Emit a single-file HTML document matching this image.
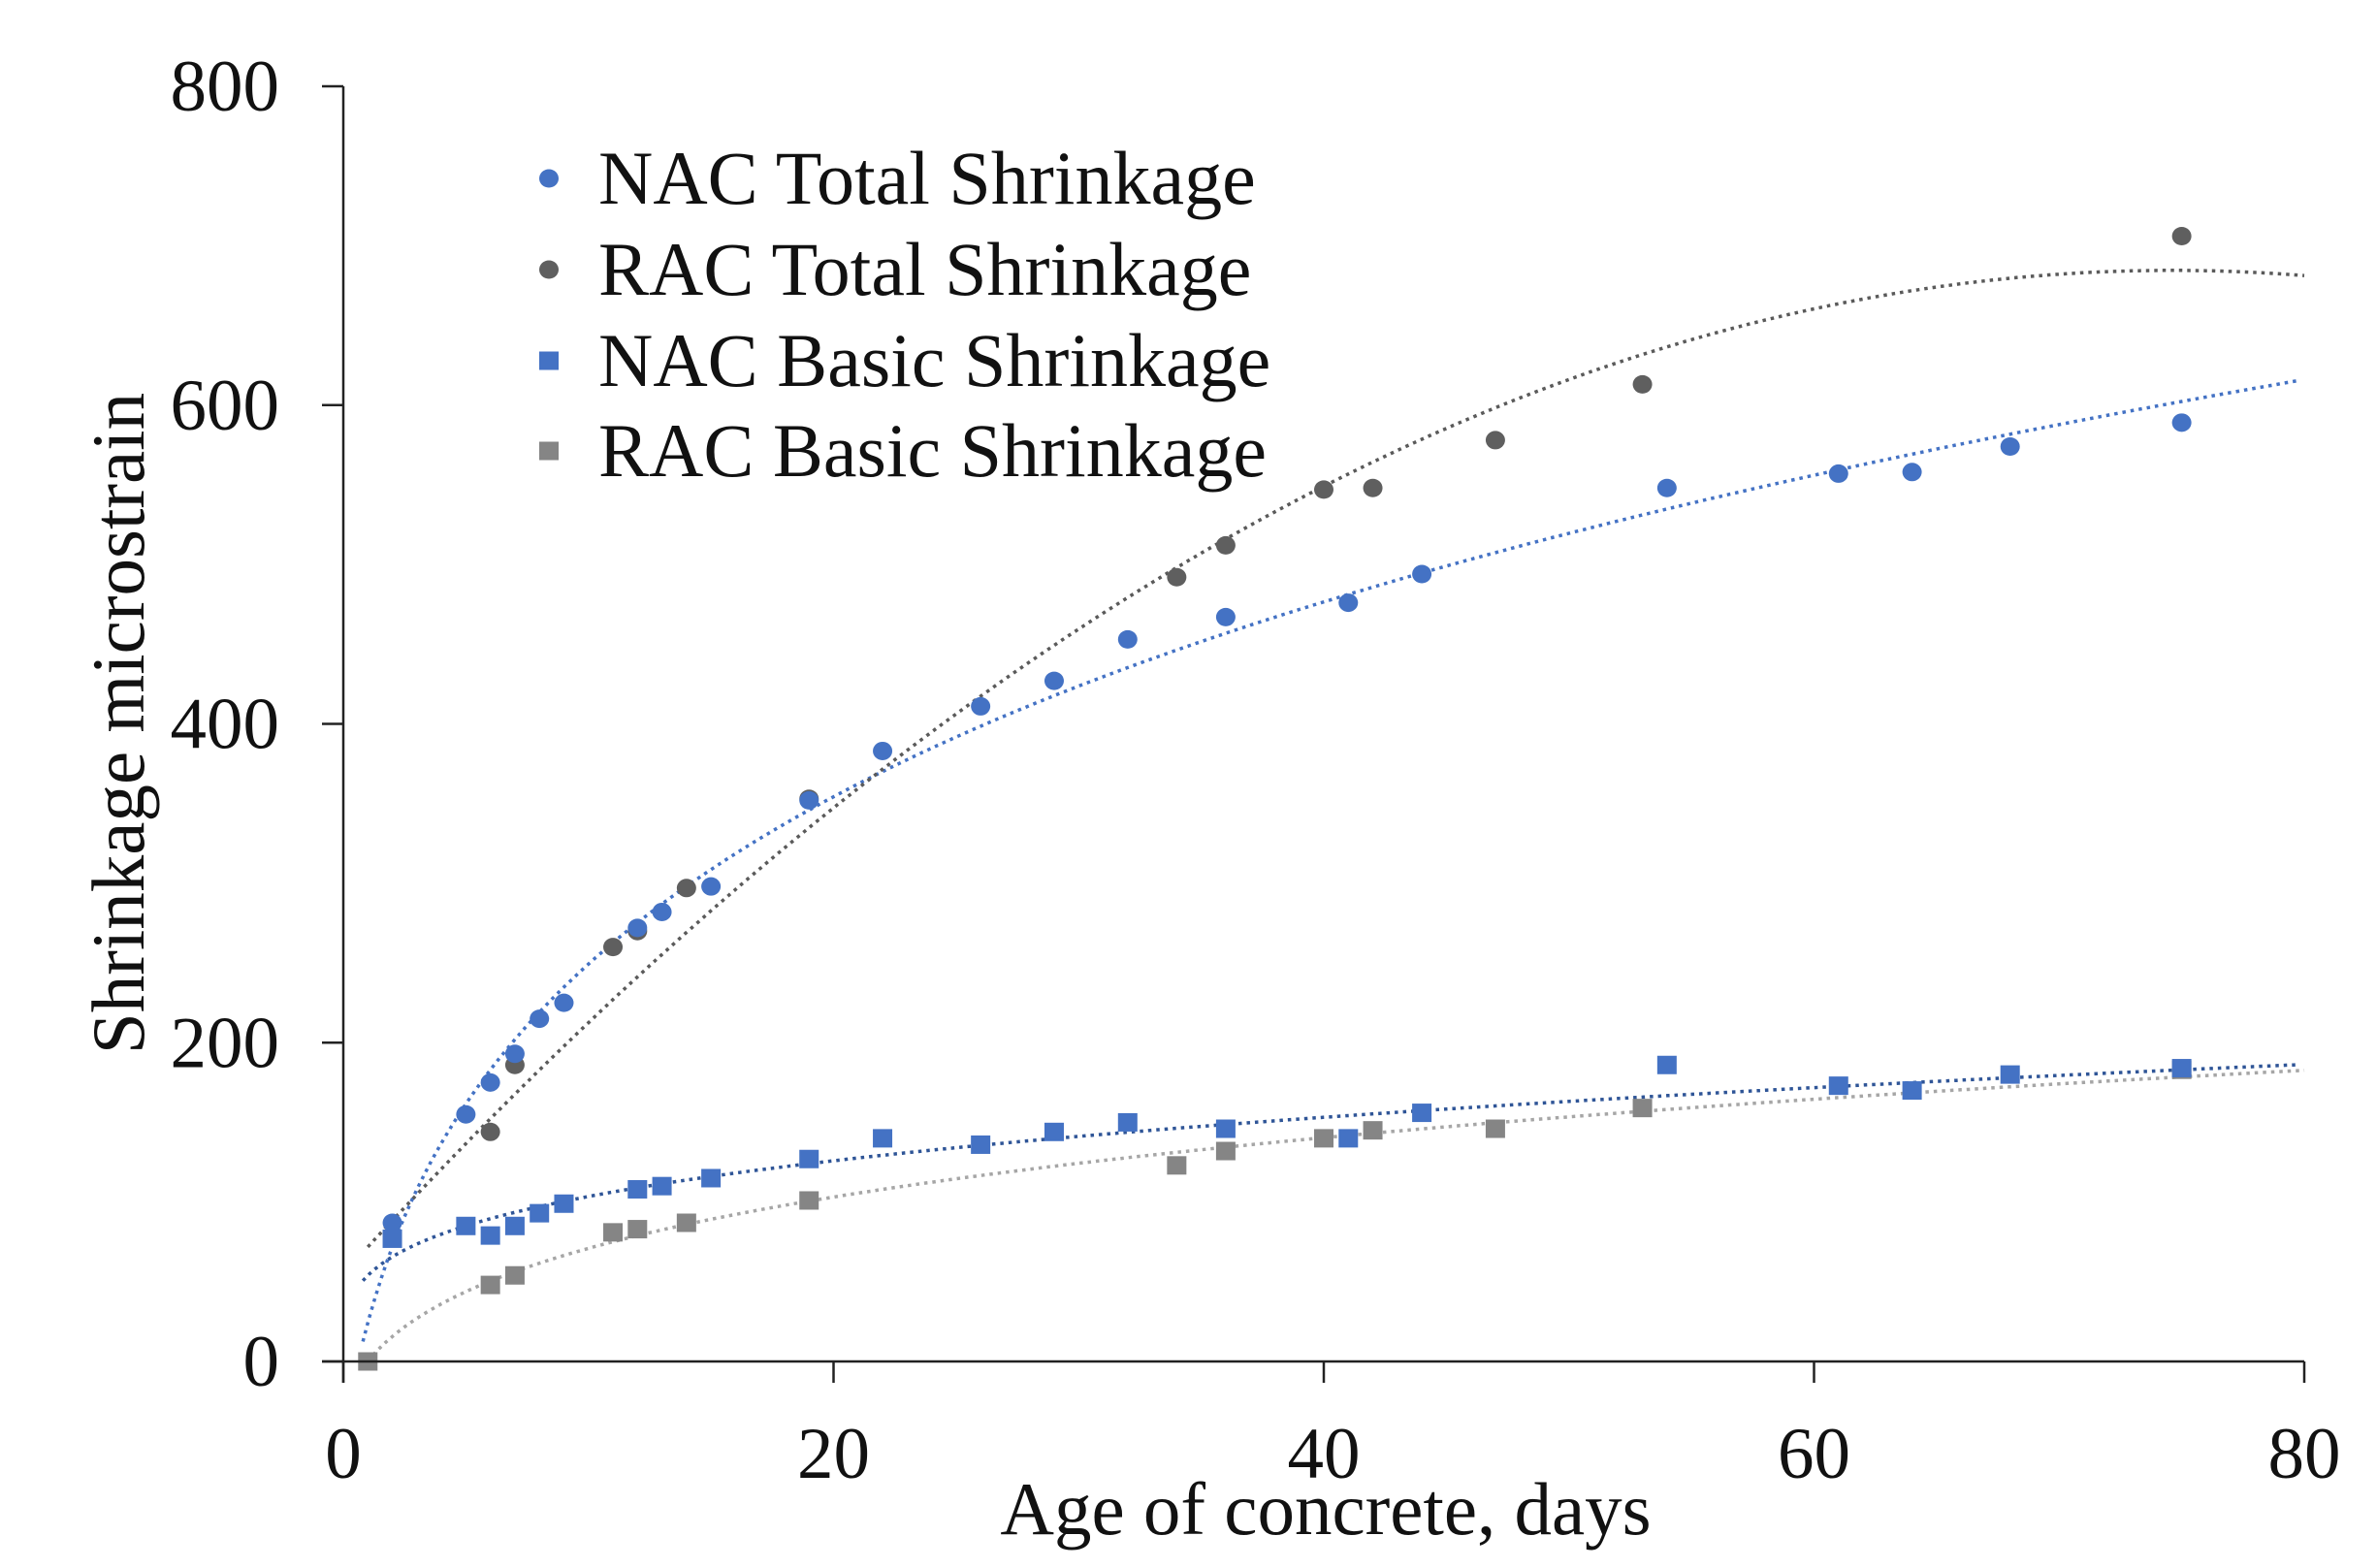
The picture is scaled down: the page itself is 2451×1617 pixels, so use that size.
<!DOCTYPE html>
<html><head><meta charset="utf-8"><style>
html,body{margin:0;padding:0;background:#fff;}
svg{display:block;}
text{font-family:"Liberation Serif",serif;fill:#111;}
</style></head><body>
<svg id="chart" width="2451" height="1617" viewBox="0 0 2451 1617" xmlns="http://www.w3.org/2000/svg">
<g id="trend"></g>
<g id="marks"></g>
<g id="axes"></g>
<g id="legend"></g>
<text x="0" y="0" font-size="77" text-anchor="middle" transform="translate(148,746) rotate(-90)">Shrinkage microstrain</text>
<text x="1367" y="1582" font-size="77" text-anchor="middle">Age of  concrete, days</text>
</svg>
<script>
const xTicks=[0,20,40,60,80];
const yTicks=[0,200,400,600,800];
const nacTotalX=[2,5,6,7,8,9,12,13,15,19,22,26,29,32,36,41,44,54,61,64,68,75];
const nacTotalY=[87,155,175,193,215,225,272,282,298,352,383,411,427,453,467,476,494,548,557,558,574,589];
const racTotalX=[6,7,11,12,14,19,34,36,40,42,47,53,75];
const racTotalY=[144,186,260,270,297,353,492,512,547,548,578,613,706];
const nacBasicX=[2,5,6,7,8,9,12,13,15,19,22,26,29,32,36,41,44,54,61,64,68,75];
const nacBasicY=[77,85,79,85,93,99,108,110,115,127,140,136,144,150,146,140,156,186,173,170,180,184];
const racBasicX=[1,6,7,11,12,14,19,34,36,40,42,47,53,75];
const racBasicY=[0,48,54,81,83,87,101,123,132,140,145,146,159,183];
const legendLabels=["NAC Total Shrinkage","RAC Total Shrinkage","NAC Basic Shrinkage","RAC Basic Shrinkage"];

const X0=354,X1=2376,Y0=1404,Y1=89;
const xs=v=>X0+(v-0)/(80-0)*(X1-X0);
const ys=v=>Y0-(v-0)/(800-0)*(Y0-Y1);
const NS="http://www.w3.org/2000/svg";
function mk(tag,parent,attrs){const e=document.createElementNS(NS,tag);for(const k in attrs)e.setAttribute(k,attrs[k]);parent.appendChild(e);return e;}

function fit(xa,ya,deg,tf){
  const n=deg+1;const A=[];for(let i=0;i<n;i++){A.push(new Array(n+1).fill(0));}
  xa.forEach((x,k)=>{const t=tf(x);for(let i=0;i<n;i++){for(let j=0;j<n;j++)A[i][j]+=Math.pow(t,i+j);A[i][n]+=Math.pow(t,i)*ya[k];}});
  for(let i=0;i<n;i++){let p=i;for(let r=i+1;r<n;r++)if(Math.abs(A[r][i])>Math.abs(A[p][i]))p=r;[A[i],A[p]]=[A[p],A[i]];
    for(let r=0;r<n;r++){if(r===i)continue;const f=A[r][i]/A[i][i];for(let c=i;c<=n;c++)A[r][c]-=f*A[i][c];}}
  const co=A.map((r,i)=>r[n]/r[i]);
  return x=>{const t=tf(x);return co.reduce((s,c,i)=>s+c*Math.pow(t,i),0);};
}
const id=x=>x, lg=x=>Math.log(x);
const nacBasicLog=fit(nacBasicX,nacBasicY.map(v=>Math.log(v)),1,lg);
const trends=[
  {f:fit(nacTotalX,nacTotalY,2,lg),c:"#4472C4",x0:0.8,name:"nac-total-trendline"},
  {f:fit([1].concat(racTotalX),[0].concat(racTotalY),2,id),c:"#5a5a5a",x0:1,name:"rac-total-trendline"},
  {f:x=>Math.exp(nacBasicLog(x)),c:"#2F5597",x0:0.8,name:"nac-basic-trendline"},
  {f:fit(racBasicX,racBasicY,2,lg),c:"#a6a6a6",x0:1,name:"rac-basic-trendline"}
];
const tg=document.getElementById('trend');
trends.forEach(t=>{
  let d="";for(let x=t.x0;x<=80.001;x+=0.25){const y=Math.max(0,t.f(x));d+=(d?"L":"M")+xs(x).toFixed(1)+","+ys(y).toFixed(1);}
  const p=mk('path',tg,{d:d,fill:"none",stroke:t.c,"stroke-width":3.5,"stroke-dasharray":"3.5 5"});
  
  
});

const mg=document.getElementById('marks');
function circles(xa,ya,c,name){xa.forEach((x,i)=>{const e=mk('ellipse',mg,{cx:xs(x),cy:ys(ya[i]),rx:10,ry:9.5,fill:c});
  
  });}
function squares(xa,ya,c,name){xa.forEach((x,i)=>{const e=mk('rect',mg,{x:xs(x)-10,y:ys(ya[i])-9.5,width:20,height:19,fill:c});
  
  });}
squares(racBasicX,racBasicY,"#858585","rac-basic-point");
squares(nacBasicX,nacBasicY,"#4472C4","nac-basic-point");
circles(racTotalX,racTotalY,"#5f5f5f","rac-total-point");
circles(nacTotalX,nacTotalY,"#4472C4","nac-total-point");

const ag=document.getElementById('axes');
const yl=mk('line',ag,{x1:X0,y1:Y1,x2:X0,y2:Y0+22,stroke:"#222","stroke-width":2.5});


const xl=mk('line',ag,{x1:X0-22,y1:Y0,x2:X1,y2:Y0,stroke:"#222","stroke-width":2.5});


yTicks.forEach(v=>{
  const l=mk('line',ag,{x1:X0-22,y1:ys(v),x2:X0,y2:ys(v),stroke:"#222","stroke-width":2.5});
  
  
  const t=mk('text',ag,{x:288,y:ys(v)+25,"font-size":75,"text-anchor":"end"});t.textContent=v;
  
  
});
xTicks.forEach(v=>{
  const l=mk('line',ag,{x1:xs(v),y1:Y0,x2:xs(v),y2:Y0+22,stroke:"#222","stroke-width":2.5});
  
  
  const t=mk('text',ag,{x:xs(v),y:1524,"font-size":75,"text-anchor":"middle"});t.textContent=v;
  
  
});

const lgG=document.getElementById('legend');
const lc=["#4472C4","#5f5f5f","#4472C4","#858585"];
const rowY=[184,278,372,465];
legendLabels.forEach((s,i)=>{
  let m;
  if(i<2){m=mk('ellipse',lgG,{cx:566,cy:rowY[i],rx:10,ry:9.5,fill:lc[i]});}
  else{m=mk('rect',lgG,{x:556,y:rowY[i]-9.5,width:20,height:19,fill:lc[i]});}
  
  
  const t=mk('text',lgG,{x:617,y:rowY[i]+26,"font-size":78});t.textContent=s;
  
  
});
</script>
</body></html>
